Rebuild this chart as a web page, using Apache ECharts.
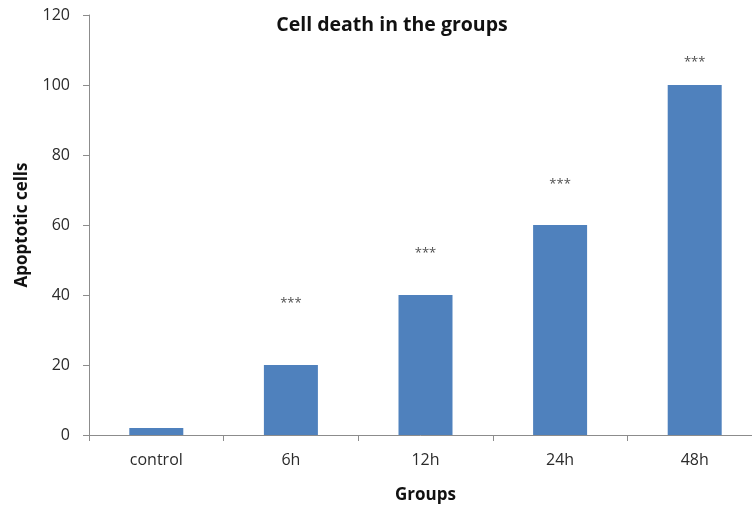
<!DOCTYPE html>
<html>
<head>
<meta charset="utf-8">
<script src="https://cdn.jsdelivr.net/npm/echarts@6/dist/echarts.min.js"></script>
<style>
  html, body { margin: 0; padding: 0; background: #fff; }
  #chart { width: 752px; height: 505px; }
</style>
</head>
<body>
<div id="chart"></div>
<script>
var groups = ['control', '6h', '12h', '24h', '48h'];
var apoptoticCells = [2, 20, 40, 60, 100];
// where the significance marks sit (value units)
var starLevels = [null, 37.5, 52, 71.5, 106.5];
var starText = '***';
var yTicks = [0, 20, 40, 60, 80, 100, 120];

var FONT = 'Open Sans';
var axisGrey = '#8c8c8c';

var chart = echarts.init(document.getElementById('chart'));
chart.setOption({
  animation: false,
  title: {
    text: 'Cell death in the groups',
    left: 387,
    top: 10,
    textAlign: 'center',
    textStyle: { fontFamily: FONT, fontSize: 19.5, fontWeight: 'bold', color: '#111' }
  },
  grid: {
    left: 89, right: -10, top: 15, bottom: 70,
    containLabel: false,
    outerBoundsMode: 'none'
  },
  xAxis: {
    type: 'category',
    data: groups,
    name: 'Groups',
    nameLocation: 'middle',
    nameGap: 52,
    nameTextStyle: { fontFamily: FONT, fontSize: 17, fontWeight: 'bold', color: '#111' },
    axisLine: { lineStyle: { color: axisGrey, width: 1 } },
    axisTick: { show: true, length: 6, alignWithLabel: false, lineStyle: { color: axisGrey } },
    axisLabel: { margin: 17, fontFamily: FONT, fontSize: 16, color: '#2b2b2b' }
  },
  yAxis: {
    type: 'value',
    min: yTicks[0],
    max: yTicks[yTicks.length - 1],
    interval: 20,
    name: 'Apoptotic cells',
    nameLocation: 'middle',
    nameGap: 58,
    nameRotate: 90,
    nameTextStyle: { fontFamily: FONT, fontSize: 17, fontWeight: 'bold', color: '#111' },
    axisLine: { show: true, lineStyle: { color: axisGrey, width: 1 } },
    axisTick: { show: true, length: 6, lineStyle: { color: axisGrey } },
    splitLine: { show: false },
    axisLabel: { margin: 19, fontFamily: FONT, fontSize: 16, color: '#2b2b2b' }
  },
  series: [
    {
      type: 'bar',
      data: apoptoticCells,
      barWidth: 54,
      itemStyle: { color: '#4f81bd' }
    },
    {
      type: 'scatter',
      data: starLevels,
      symbolSize: 0,
      silent: true,
      label: {
        show: true,
        position: 'inside',
        formatter: starText,
        fontFamily: FONT,
        fontSize: 13,
        color: '#222'
      }
    }
  ]
});
</script>
</body>
</html>
